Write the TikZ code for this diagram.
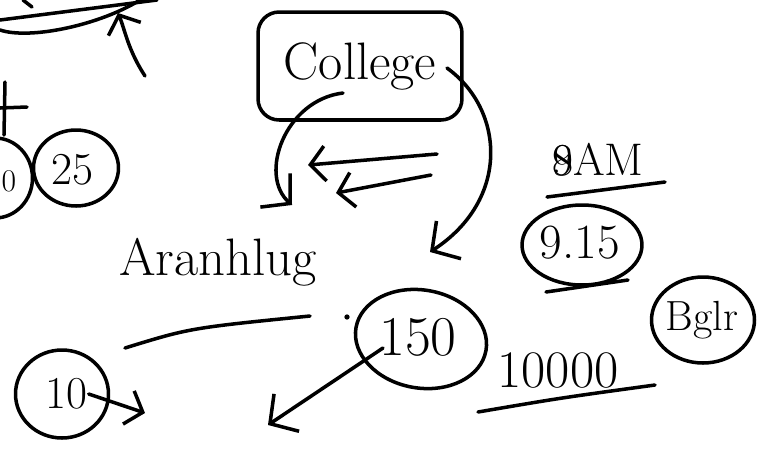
\documentclass[tikz,border=0pt]{standalone}
\usetikzlibrary{positioning, arrows.meta, shapes.geometric}

\begin{document}
\begin{tikzpicture}[
    x=0.02cm, y=-0.02cm,
    line width=2pt, line cap=round, line join=round,
    % --- Styles ---
    hand/.style={font=\fontsize{#1}{#1}\selectfont, inner sep=0pt},
    ring/.style={ellipse, draw=black, line width=2pt, inner sep=0pt},
    place_box/.style={draw=black, line width=2pt, rounded corners=12pt, minimum width=4.08cm, minimum height=2.16cm, font=\fontsize{30}{30}\selectfont},
    arrow_barb/.style={-{Straight Barb[length=4mm, width=9mm]}},
    arrow_small/.style={-{Straight Barb[length=3mm, width=7mm]}}
]
    \useasboundingbox (0,0) rectangle (757,451);

    % ==========================
    % 1. TOP LEFT (cut off)
    % ==========================
    \coordinate (tl_a) at (0,20);
    \coordinate (tl_b) at (157,0);
    \draw (tl_a) -- (tl_b);
    \draw (0,30) .. controls (30,40) and (100,25) .. (140,0);
    \draw (23,0) -- (32,7);
    \coordinate (up_start) at (145,76);
    \coordinate (up_tip) at (118,13);
    \draw[arrow_small] (up_start) .. controls (128,50) and (125,30) .. (up_tip);

    % plus sign and circles at the left edge
    \draw (5,82) -- (4,135);
    \draw (0,108) -- (27,107);
    \node[ring, minimum width=1.5cm, minimum height=1.6cm] (c_zero) at (-5,178) {};
    \node[hand=18] (zero) at (9,181) {0};
    \node[ring, minimum width=1.7cm, minimum height=1.52cm] (c_25) at (76,168) {};
    \node[hand=26] (n25) at (72,170) {25};

    % ==========================
    % 2. COLLEGE
    % ==========================
    \node[place_box] (college) at (360,66) {College};
    \coordinate (col_l) at (343,93);
    \coordinate (col_r) at (447,68);
    \coordinate (tip_l) at (292,205);
    \coordinate (tip_r) at (430,252);
    \draw[arrow_barb] (col_l) .. controls (285,100) and (258,175) .. (tip_l);
    \draw[arrow_barb] (col_r) .. controls (505,110) and (510,200) .. (tip_r);

    % two arrows pointing left
    \coordinate (la_start) at (437,154);
    \coordinate (la_tip) at (308,165);
    \coordinate (lb_start) at (431,175);
    \coordinate (lb_tip) at (336,193);
    \draw[arrow_small] (la_start) -- (la_tip);
    \draw[arrow_small] (lb_start) -- (lb_tip);

    % ==========================
    % 3. ARANHLUG / 10 / 150
    % ==========================
    \node[hand=30] (aran) at (218,262) {Aranhlug};
    \draw (125,348) .. controls (190,328) .. (310,316);
    \fill (347,317) circle (1.5pt);

    \node[ring, minimum width=1.86cm, minimum height=1.76cm] (c_10) at (62,394) {};
    \node[hand=26] (n10) at (66,394) {10};
    \coordinate (ten_tip) at (145,413);
    \draw[arrow_small] (n10.east) -- (ten_tip);

    \node[ring, rotate=-10, minimum width=2.64cm, minimum height=1.96cm] (c_150) at (421,339) {};
    \node[hand=32] (n150) at (418,337) {150};
    \coordinate (from150) at (383,348);
    \coordinate (tip150) at (268,425);
    \draw[arrow_barb] (from150) -- (tip150);

    % ==========================
    % 4. TIMES / 10000 / BGLR
    % ==========================
    \node[hand=26] (am) at (598,160) {\makebox[0pt][l]{8}9AM};
    \draw (547,197) -- (665,182);

    \node[ring, minimum width=2.4cm, minimum height=1.6cm] (c_915) at (582,245) {};
    \node[hand=28] (n915) at (580,243) {9.15};
    \draw (546,292) -- (628,280);

    \node[hand=30] (n10000) at (558,370) {10000};
    \draw (478,412) .. controls (560,398) .. (655,385);

    \node[ring, minimum width=2.06cm, minimum height=1.72cm] (c_bglr) at (703,320) {};
    \node[hand=24] (bglr) at (702,320) {Bglr};

\end{tikzpicture}
\end{document}
